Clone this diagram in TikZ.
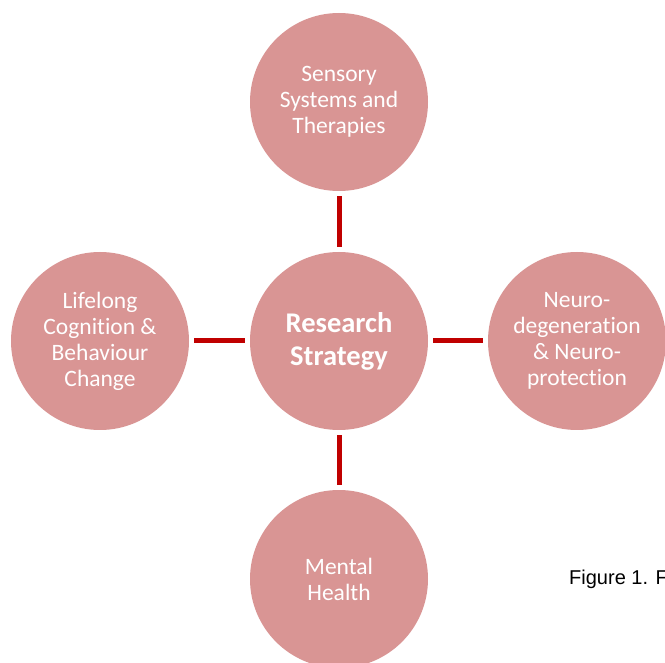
\documentclass[tikz,border=0pt]{standalone}
\usepackage{fontspec}
\setmainfont{Carlito}[Ligatures=NoCommon]
\newfontfamily\capfont{Liberation Sans}
\definecolor{circfill}{HTML}{D99594}
\definecolor{linkred}{HTML}{C00000}
\tikzset{
  topic/.style={circle, fill=circfill, minimum size=178pt, inner sep=0pt, text=white, align=center,
    font=\fontsize{23.5}{26}\selectfont},
  hub/.style={topic, font=\fontsize{28.5}{33}\selectfont\bfseries},
  link/.style={draw=linkred, line width=5pt, shorten >=5pt, shorten <=5pt}
}
\begin{document}
\begin{tikzpicture}[x=1pt,y=-1pt]
\useasboundingbox (0,0) rectangle (665,663);
\clip (0,0) rectangle (665,663);
\fill[white] (0,0) rectangle (665,663);
\node[hub] (c) at (339,341) {Research\\Strategy};
\node[topic] (t) at (339,102) {Sensory\\Systems and\\Therapies};
\node[topic] (l) at (100,341) {Lifelong\\Cognition \&\\Behaviour\\Change};
\node[topic] (r) at (577,341) {Neuro-\\degeneration\\\& Neuro-\\protection};
\node[topic] (b) at (339,579) {Mental\\Health};
\draw[link] (t) -- (c);
\draw[link] (l) -- (c);
\draw[link] (c) -- (r);
\draw[link] (c) -- (b);
\node[anchor=base west, inner sep=0pt, font=\capfont\fontsize{20}{24}\selectfont] (cap) at (569,584) {Figure 1. F};
\end{tikzpicture}
\end{document}
